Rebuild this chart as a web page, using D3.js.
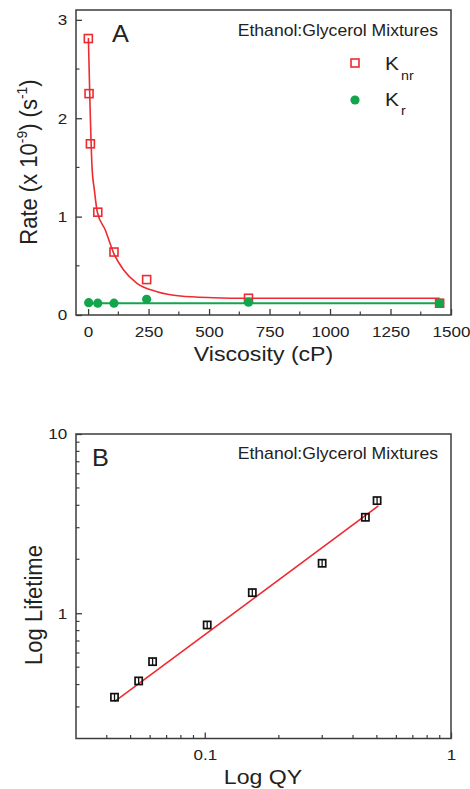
<!DOCTYPE html>
<html>
<head>
<meta charset="utf-8">
<script src="https://cdn.jsdelivr.net/npm/d3@7"></script>
<style>
  body { margin: 0; background: #fff; }
  text { font-family: "Liberation Sans", Arial, sans-serif; fill: #222; }
</style>
</head>
<body>
<svg id="fig" width="470" height="789"></svg>
<script>
// ---- panel A: rates vs viscosity ----
var knrVisc = [1, 4, 9.5, 40, 107, 242, 663, 1453];
var knr = [2.81, 2.25, 1.74, 1.045, 0.64, 0.36, 0.17, 0.12];
var krVisc = [2.5, 40, 107, 242, 663, 1453];
var kr = [0.125, 0.12, 0.12, 0.16, 0.13, 0.12];
// fitted curves
var knrFitVisc = [1.2, 8, 16.5, 26, 38, 71, 106, 147, 202, 285, 381, 518, 656, 1453];
var knrFit = [2.815, 2.13, 1.49, 1.27, 1.047, 0.864, 0.627, 0.457, 0.322, 0.237, 0.193, 0.176, 0.17, 0.17];
var krFitVisc = [0, 1453];
var krFit = [0.12, 0.12];
var viscTicks = [0, 250, 500, 750, 1000, 1250, 1500];
var rateTicks = [0, 1, 2, 3];

// ---- panel B: log lifetime vs log QY ----
var qy = [0.043, 0.0539, 0.0614, 0.1023, 0.156, 0.2997, 0.449, 0.501];
var lifetime = [0.340, 0.419, 0.537, 0.860, 1.303, 1.90, 3.43, 4.25];
var qyFit = [0.043, 0.507];
var lifetimeFit = [0.321, 3.97];
var qyTicks = [0.1, 1];
var qyTickLabels = ["0.1", "1"];
var lifeTicks = [1, 10];
var lifeTickLabels = ["1", "10"];

var RED = "#ee2b31", GREEN = "#12a54c", FRAME = "#3c3c3c";
var SX = 1.1; // text in the figure is slightly wide

var svg = d3.select("#fig");

function label(x, y, str, size, anchor, rot) {
  var g = svg.append("g").attr("transform", "translate(" + x + "," + y + ") scale(" + SX + ",1)" + (rot ? " rotate(" + rot + ")" : ""));
  var t = g.append("text").attr("font-size", size).attr("text-anchor", anchor || "start");
  if (typeof str === "string") t.text(str);
  return t;
}

function styleTicks(ax) {
  ax.select(".domain").remove();
  ax.selectAll("line").attr("stroke", FRAME).attr("stroke-width", 1.3);
  ax.selectAll("text").attr("font-size", 15.5).attr("fill", "#222")
    .attr("font-family", "Liberation Sans, Arial, sans-serif")
    .attr("transform", "scale(" + SX + ",1)");
}

function minor(g, scale, vals, orient, size) {
  g.selectAll(null).data(vals).enter().append("line")
    .attr("stroke", FRAME).attr("stroke-width", 1.2)
    .attr("x1", function(d) { return orient === "x" ? scale(d) : 0; })
    .attr("x2", function(d) { return orient === "x" ? scale(d) : size; })
    .attr("y1", function(d) { return orient === "x" ? 0 : scale(d); })
    .attr("y2", function(d) { return orient === "x" ? -size : scale(d); });
}

// ================= Panel A =================
var xA = d3.scaleLinear().domain([-50, 1500]).range([76, 451]);
var yA = d3.scaleLinear().domain([0, 3.1]).range([315, 10]);

var axA = svg.append("g").attr("transform", "translate(0,315)")
  .call(d3.axisBottom(xA).tickValues(viscTicks).tickFormat(d3.format("d"))
    .tickSizeInner(-6).tickSizeOuter(0).tickPadding(11));
styleTicks(axA);
minor(axA, xA, [125, 375, 625, 875, 1125, 1375], "x", 3.5);

var ayA = svg.append("g").attr("transform", "translate(76,0)")
  .call(d3.axisLeft(yA).tickValues(rateTicks).tickFormat(d3.format("d"))
    .tickSizeInner(-6).tickSizeOuter(0).tickPadding(8));
styleTicks(ayA);
minor(ayA, yA, [0.5, 1.5, 2.5], "y", 3.5);

svg.append("rect").attr("x", 76).attr("y", 10).attr("width", 375).attr("height", 305)
  .attr("fill", "none").attr("stroke", FRAME).attr("stroke-width", 1.5);

var lineA = d3.line().x(function(d) { return xA(d[0]); }).y(function(d) { return yA(d[1]); });

svg.append("path").datum(d3.zip(knrFitVisc, knrFit))
  .attr("d", lineA.curve(d3.curveMonotoneX)).attr("fill", "none").attr("stroke", RED).attr("stroke-width", 1.6);
svg.append("path").datum(d3.zip(krFitVisc, krFit))
  .attr("d", lineA.curve(d3.curveLinear)).attr("fill", "none").attr("stroke", GREEN).attr("stroke-width", 2);

svg.selectAll(".knr").data(d3.zip(knrVisc, knr)).enter().append("rect")
  .attr("x", function(d) { return xA(d[0]) - 4; })
  .attr("y", function(d) { return yA(d[1]) - 4; })
  .attr("width", 8).attr("height", 8)
  .attr("fill", "none").attr("stroke", RED).attr("stroke-width", 1.6);

svg.selectAll(".kr").data(d3.zip(krVisc, kr)).enter().append("circle")
  .attr("cx", function(d) { return xA(d[0]); })
  .attr("cy", function(d) { return yA(d[1]); })
  .attr("r", 4.6).attr("fill", GREEN);

label(112, 42, "A", 23);
label(438, 36, "Ethanol:Glycerol Mixtures", 16, "end");

// legend
svg.append("rect").attr("x", 351).attr("y", 59).attr("width", 8).attr("height", 8)
  .attr("fill", "none").attr("stroke", RED).attr("stroke-width", 1.6);
svg.append("circle").attr("cx", 355).attr("cy", 100).attr("r", 4.6).attr("fill", GREEN);
label(385, 69.5, "K", 19);
label(401, 79.5, "nr", 13);
label(385, 105.5, "K", 19);
label(401, 114.5, "r", 13);

// axis titles
label(263.5, 361, "Viscosity (cP)", 21, "middle");
var rt = label(37, 162, null, 22, "middle", -90);
rt.append("tspan").text("Rate  (x 10");
rt.append("tspan").attr("font-size", 14).attr("dy", -9).text("-9");
rt.append("tspan").attr("dy", 9).text(") (s");
rt.append("tspan").attr("font-size", 14).attr("dy", -9).text("-1");
rt.append("tspan").attr("dy", 9).text(")");

// ================= Panel B =================
var xB = d3.scaleLog().domain([0.03, 1]).range([76, 451]);
var yB = d3.scaleLog().domain([0.2, 10]).range([738.5, 434]);

var axB = svg.append("g").attr("transform", "translate(0,738.5)")
  .call(d3.axisBottom(xB).tickValues(qyTicks).tickFormat(function(d, i) { return qyTickLabels[i]; })
    .tickSizeInner(-6).tickSizeOuter(0).tickPadding(11));
styleTicks(axB);
minor(axB, xB, [0.04, 0.05, 0.06, 0.07, 0.08, 0.09, 0.2, 0.3, 0.4, 0.5, 0.6, 0.7, 0.8, 0.9], "x", 3.5);

var ayB = svg.append("g").attr("transform", "translate(76,0)")
  .call(d3.axisLeft(yB).tickValues(lifeTicks).tickFormat(function(d, i) { return lifeTickLabels[i]; })
    .tickSizeInner(-6).tickSizeOuter(0).tickPadding(8));
styleTicks(ayB);
minor(ayB, yB, [0.3, 0.4, 0.5, 0.6, 0.7, 0.8, 0.9, 2, 3, 4, 5, 6, 7, 8, 9], "y", 3.5);

svg.append("rect").attr("x", 76).attr("y", 434).attr("width", 375).attr("height", 304.5)
  .attr("fill", "none").attr("stroke", FRAME).attr("stroke-width", 1.5);

var lineB = d3.line().x(function(d) { return xB(d[0]); }).y(function(d) { return yB(d[1]); });
svg.append("path").datum(d3.zip(qyFit, lifetimeFit))
  .attr("d", lineB).attr("fill", "none").attr("stroke", RED).attr("stroke-width", 1.6);

var mk = svg.selectAll(".lt").data(d3.zip(qy, lifetime)).enter().append("g")
  .attr("transform", function(d) { return "translate(" + xB(d[0]) + "," + yB(d[1]) + ")"; });
mk.append("rect").attr("x", -3.6).attr("y", -3.6).attr("width", 7.2).attr("height", 7.2)
  .attr("fill", "none").attr("stroke", "#111").attr("stroke-width", 1.7);
mk.append("line").attr("x1", 0).attr("x2", 0).attr("y1", -3.6).attr("y2", 3.6)
  .attr("stroke", "#111").attr("stroke-width", 1.3);

label(92, 466, "B", 23);
label(438, 459, "Ethanol:Glycerol Mixtures", 16, "end");

label(263, 784, "Log QY", 21, "middle");
label(42, 605, "Log Lifetime", 22, "middle", -90);
</script>
</body>
</html>
